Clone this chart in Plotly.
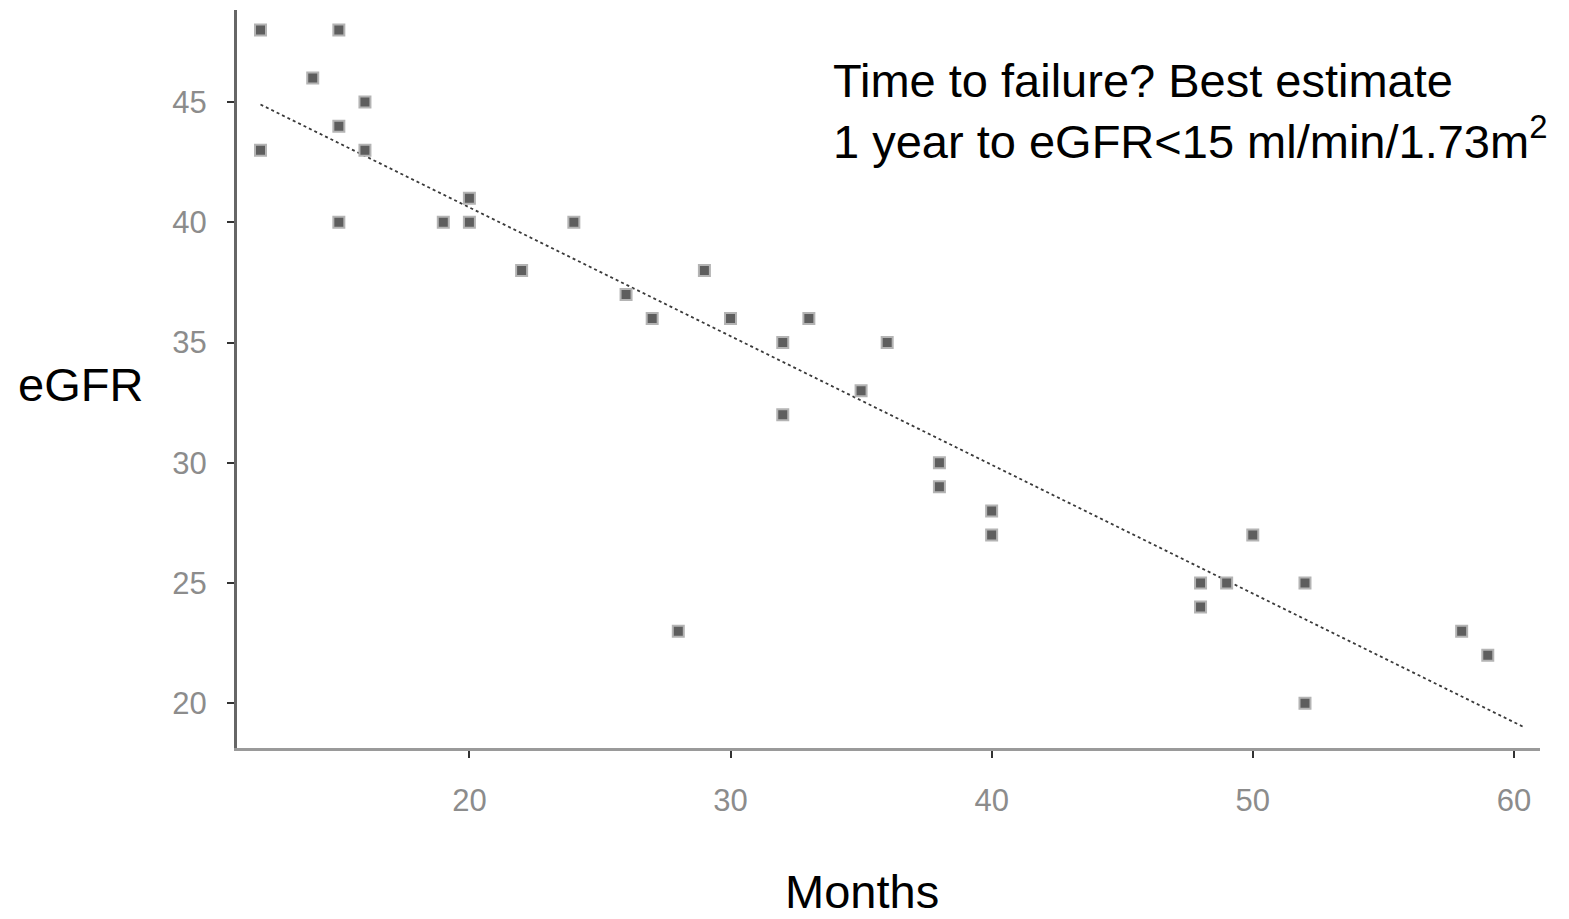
import plotly.graph_objects as go

# eGFR readings over time (months, ml/min/1.73m2)
months = [12, 15, 14, 16, 15, 12, 16, 15, 19, 20, 20, 22, 24, 26, 27, 29, 30,
          32, 32, 33, 35, 36, 38, 38, 40, 40, 28, 48, 48, 49, 50, 52, 52, 58, 59]
egfr = [48, 48, 46, 45, 44, 43, 43, 40, 40, 41, 40, 38, 40, 37, 36, 38, 36,
        35, 32, 36, 33, 35, 30, 29, 28, 27, 23, 25, 24, 25, 27, 25, 20, 23, 22]

# Fitted trend line end points
trend_months = [12, 60.4]
trend_egfr = [44.9, 19.0]

x_ticks = [20, 30, 40, 50, 60]
y_ticks = [20, 25, 30, 35, 40, 45]

W, H = 1569, 919
L, R, T, B = 237, 29, 10, 171
pw, ph = W - L - R, H - T - B


def px(x):
    return (x - L) / pw


def py(y):
    return (H - B - y) / ph


fig = go.Figure()
fig.add_trace(go.Scatter(
    x=trend_months, y=trend_egfr, mode="lines",
    line=dict(color="#3a3a3a", width=1.8, dash="dot"),
    hoverinfo="skip", showlegend=False,
))
fig.add_trace(go.Scatter(
    x=months, y=egfr, mode="markers",
    marker=dict(symbol="square", size=11, color="#5e5e5e",
                line=dict(color="#b4b4b4", width=2)),
    showlegend=False,
))

tick_font = dict(family="Liberation Sans, Arial, sans-serif", size=31, color="#8c8c8c")
fig.update_xaxes(
    range=[11.1, 61.0], tickvals=x_ticks, ticks="outside", ticklen=7, tickwidth=2,
    tickcolor="#333", showline=True, linecolor="#9a9a9a", linewidth=3,
    showgrid=False, zeroline=False, tickfont=tick_font, ticklabelstandoff=16,
)
fig.update_yaxes(
    range=[18.14, 48.83], tickvals=y_ticks, ticks="outside", ticklen=7, tickwidth=2,
    tickcolor="#333", showline=True, linecolor="#666", linewidth=3,
    showgrid=False, zeroline=False, tickfont=tick_font, ticklabelstandoff=14,
)

text_font = dict(family="Liberation Sans, Arial, sans-serif", size=47, color="#000")
fig.add_annotation(
    text="eGFR", xref="paper", yref="paper", x=px(16), y=py(385),
    xanchor="left", yanchor="middle", showarrow=False, font=text_font,
)
fig.add_annotation(
    text="Months", xref="paper", yref="paper", x=px(862), y=py(891),
    xanchor="center", yanchor="middle", showarrow=False, font=text_font,
)
fig.add_annotation(
    text="Time to failure? Best estimate<br>1 year to eGFR&lt;15 ml/min/1.73m<sup>2</sup>",
    xref="paper", yref="paper", x=px(831), y=py(52),
    xanchor="left", yanchor="top", align="left", showarrow=False, font=text_font,
)

fig.update_layout(
    width=W, height=H, margin=dict(l=L, r=R, t=T, b=B),
    paper_bgcolor="white", plot_bgcolor="white",
)
fig.write_html("out.html")
